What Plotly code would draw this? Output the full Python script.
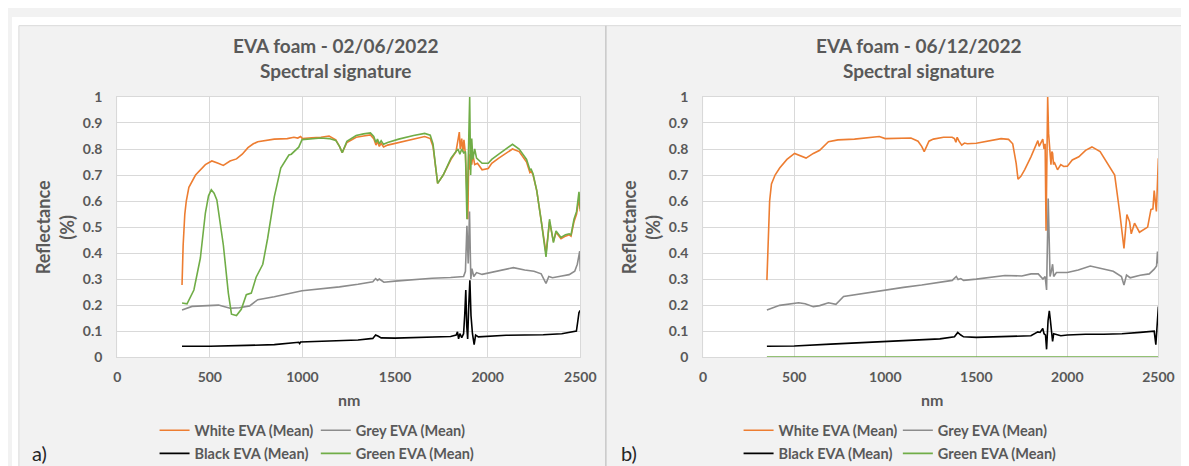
import plotly.graph_objects as go

# ---------------- data ----------------
# Panel a) 02/06/2022
a_white_nm = [350, 356, 365, 373, 387, 423, 476, 511, 545, 573, 609, 644, 675, 706, 735, 759, 848, 918, 954, 975, 990,
              1000, 1050, 1100, 1144, 1160, 1180, 1200, 1215, 1240, 1290, 1330, 1367, 1385, 1397, 1405, 1415, 1425, 1438,
              1460, 1520, 1600, 1660, 1690, 1705, 1721, 1730, 1760, 1802, 1829, 1840, 1847, 1852, 1860, 1866, 1872,
              1880, 1888, 1893, 1898, 1903, 1908, 1914, 1920, 1930, 1945, 1970, 2003, 2022, 2060, 2100, 2134, 2170,
              2210, 2228, 2235, 2245, 2265, 2290, 2315, 2334, 2355, 2369, 2396, 2420, 2440, 2450, 2466, 2480, 2493, 2500]
a_white = [0.277, 0.43, 0.55, 0.60, 0.653, 0.70, 0.74, 0.754, 0.745, 0.737, 0.754, 0.762, 0.78, 0.805, 0.82, 0.828,
           0.838, 0.84, 0.845, 0.842, 0.848, 0.84, 0.843, 0.845, 0.85, 0.843, 0.835, 0.81, 0.786, 0.825, 0.845, 0.85,
           0.854, 0.84, 0.815, 0.83, 0.81, 0.822, 0.808, 0.815, 0.825, 0.84, 0.848, 0.84, 0.81, 0.72, 0.668, 0.70,
           0.76, 0.79, 0.83, 0.865, 0.80, 0.84, 0.79, 0.835, 0.78, 0.60, 0.53, 0.78, 0.72, 0.80, 0.74, 0.78, 0.74,
           0.745, 0.72, 0.725, 0.745, 0.765, 0.785, 0.80, 0.79, 0.75, 0.71, 0.715, 0.70, 0.64, 0.52, 0.40, 0.52,
           0.445, 0.48, 0.455, 0.465, 0.47, 0.465, 0.52, 0.55, 0.61, 0.56]

a_grey_nm = [350, 404, 547, 609, 660, 715, 759, 848, 998, 1100, 1200, 1300, 1380, 1395, 1405, 1415, 1440, 1500, 1600,
             1700, 1800, 1850, 1870, 1880, 1888, 1895, 1902, 1909, 1915, 1925, 1940, 1970, 2050, 2139, 2200, 2250,
             2289, 2315, 2330, 2350, 2400, 2440, 2470, 2484, 2497, 2500]
a_grey = [0.181, 0.195, 0.20, 0.188, 0.19, 0.197, 0.221, 0.232, 0.255, 0.262, 0.27, 0.28, 0.29, 0.302, 0.295, 0.30,
          0.288, 0.292, 0.298, 0.303, 0.306, 0.308, 0.31, 0.33, 0.505, 0.36, 0.56, 0.30, 0.34, 0.31, 0.325, 0.318,
          0.33, 0.344, 0.335, 0.33, 0.32, 0.283, 0.31, 0.305, 0.312, 0.317, 0.33, 0.357, 0.407, 0.33]

a_black_nm = [350, 500, 700, 848, 980, 985, 990, 1100, 1200, 1300, 1380, 1395, 1410, 1425, 1500, 1600, 1700, 1800,
              1830, 1837, 1843, 1850, 1860, 1870, 1876, 1882, 1887, 1892, 1898, 1904, 1910, 1918, 1927, 1935, 1950,
              2000, 2100, 2200, 2300, 2400, 2440, 2470, 2479, 2485, 2493, 2500]
a_black = [0.042, 0.042, 0.045, 0.048, 0.057, 0.052, 0.058, 0.06, 0.063, 0.066, 0.072, 0.085, 0.08, 0.074, 0.073,
           0.075, 0.077, 0.079, 0.085, 0.097, 0.07, 0.09, 0.075, 0.09, 0.16, 0.258, 0.12, 0.07, 0.20, 0.295, 0.16,
           0.09, 0.048, 0.085, 0.078, 0.08, 0.084, 0.085, 0.086, 0.09, 0.095, 0.10, 0.10, 0.13, 0.171, 0.18]

a_green_nm = [350, 377, 414, 449, 476, 493, 508, 523, 538, 573, 600, 617, 644, 670, 697, 724, 750, 786, 812, 848, 883,
              910, 927, 940, 954, 970, 980, 998, 1050, 1100, 1144, 1180, 1200, 1215, 1240, 1290, 1330, 1367, 1385,
              1397, 1405, 1415, 1425, 1438, 1460, 1520, 1600, 1660, 1690, 1705, 1721, 1730, 1760, 1802, 1829, 1840,
              1850, 1860, 1870, 1880, 1888, 1896, 1903, 1908, 1914, 1920, 1930, 1940, 1970, 2003, 2022, 2060, 2100,
              2134, 2170, 2210, 2228, 2235, 2245, 2265, 2290, 2315, 2334, 2355, 2369, 2396, 2420, 2440, 2450, 2466,
              2480, 2493, 2500]
a_green = [0.208, 0.205, 0.258, 0.381, 0.554, 0.62, 0.643, 0.63, 0.604, 0.431, 0.246, 0.165, 0.16, 0.184, 0.24,
           0.246, 0.307, 0.357, 0.456, 0.616, 0.727, 0.76, 0.777, 0.78, 0.79, 0.80, 0.807, 0.836, 0.84, 0.842, 0.84,
           0.833, 0.81, 0.786, 0.83, 0.852, 0.858, 0.862, 0.848, 0.825, 0.838, 0.82, 0.832, 0.818, 0.825, 0.838,
           0.852, 0.86, 0.853, 0.82, 0.72, 0.668, 0.70, 0.765, 0.79, 0.80, 0.78, 0.80, 0.785, 0.79, 0.53, 0.75, 1.0,
           0.70, 0.84, 0.76, 0.80, 0.765, 0.745, 0.745, 0.76, 0.78, 0.80, 0.818, 0.80, 0.76, 0.72, 0.722, 0.705,
           0.64, 0.52, 0.385, 0.53, 0.44, 0.485, 0.46, 0.47, 0.474, 0.47, 0.53, 0.56, 0.635, 0.57]

# Panel b) 06/12/2022
b_white_nm = [350, 356, 365, 375, 395, 420, 460, 502, 535, 565, 605, 640, 688, 740, 831, 900, 967, 1000, 1060, 1141,
              1180, 1200, 1214, 1240, 1264, 1320, 1367, 1380, 1388, 1395, 1405, 1420, 1435, 1451, 1500, 1560, 1636,
              1677, 1700, 1719, 1729, 1745, 1766, 1800, 1838, 1845, 1855, 1865, 1872, 1878, 1883, 1888, 1892, 1897,
              1901, 1906, 1910, 1915, 1919, 1924, 1928, 1946, 1964, 1980, 2000, 2027, 2063, 2100, 2135, 2180, 2225,
              2242, 2260, 2288, 2311, 2327, 2342, 2351, 2369, 2396, 2420, 2441, 2459, 2470, 2477, 2489, 2500]
b_white = [0.296, 0.45, 0.60, 0.666, 0.70, 0.727, 0.76, 0.783, 0.775, 0.765, 0.783, 0.795, 0.828, 0.835, 0.838,
           0.842, 0.848, 0.84, 0.842, 0.842, 0.83, 0.81, 0.79, 0.83, 0.838, 0.845, 0.845, 0.84, 0.826, 0.845, 0.83,
           0.815, 0.823, 0.82, 0.822, 0.83, 0.84, 0.837, 0.82, 0.745, 0.684, 0.695, 0.721, 0.77, 0.832, 0.81, 0.825,
           0.838, 0.80, 0.82, 0.486, 0.75, 1.0, 0.86, 0.81, 0.76, 0.74, 0.79, 0.784, 0.74, 0.75, 0.72, 0.74, 0.733,
           0.734, 0.758, 0.77, 0.795, 0.808, 0.79, 0.74, 0.717, 0.70, 0.554, 0.418, 0.548, 0.52, 0.474, 0.515, 0.48,
           0.49, 0.50, 0.567, 0.57, 0.64, 0.56, 0.764]

b_grey_nm = [350, 420, 524, 560, 605, 640, 688, 729, 771, 850, 997, 1100, 1200, 1300, 1368, 1390, 1400, 1415, 1430,
             1500, 1600, 1657, 1750, 1801, 1840, 1866, 1878, 1886, 1895, 1900, 1905, 1912, 1919, 1925, 1940, 2000,
             2060, 2126, 2200, 2252, 2297, 2311, 2325, 2345, 2400, 2450, 2477, 2490, 2495, 2500]
b_grey = [0.181, 0.199, 0.209, 0.205, 0.194, 0.198, 0.209, 0.203, 0.233, 0.242, 0.258, 0.268, 0.277, 0.287, 0.295,
          0.31, 0.298, 0.302, 0.295, 0.30, 0.308, 0.314, 0.312, 0.32, 0.32, 0.30, 0.31, 0.258, 0.61, 0.38, 0.31,
          0.33, 0.357, 0.31, 0.325, 0.325, 0.335, 0.35, 0.338, 0.33, 0.31, 0.277, 0.315, 0.305, 0.315, 0.32, 0.338,
          0.35, 0.406, 0.36]

b_black_nm = [350, 500, 700, 850, 997, 1200, 1300, 1380, 1398, 1415, 1430, 1500, 1600, 1700, 1766, 1800, 1838, 1850,
              1865, 1872, 1880, 1886, 1894, 1901, 1907, 1913, 1919, 1925, 1964, 2000, 2100, 2200, 2300, 2400, 2477,
              2486, 2492, 2500]
b_black = [0.042, 0.043, 0.05, 0.055, 0.06, 0.066, 0.07, 0.078, 0.095, 0.085, 0.078, 0.076, 0.078, 0.08, 0.079,
           0.082, 0.097, 0.095, 0.11, 0.09, 0.085, 0.03, 0.14, 0.178, 0.14, 0.09, 0.06, 0.09, 0.082, 0.085, 0.088,
           0.088, 0.09, 0.095, 0.10, 0.048, 0.11, 0.194]

b_green_nm = [350, 2500]
b_green = [0.0, 0.0]

series_names = ["White EVA (Mean)", "Grey EVA (Mean)", "Black EVA (Mean)", "Green EVA (Mean)"]
series_colors = ["#ED7D31", "#8C8C8C", "#000000", "#70AD47"]

panel_titles = ["EVA foam - 02/06/2022<br>Spectral signature", "EVA foam - 06/12/2022<br>Spectral signature"]
panel_labels = ["a)", "b)"]
x_ticks = [0, 500, 1000, 1500, 2000, 2500]
y_ticks = [0, 0.1, 0.2, 0.3, 0.4, 0.5, 0.6, 0.7, 0.8, 0.9, 1]

# ---------------- figure ----------------
W, H = 1189, 466
def px(x):
    return x / W
def py(y):
    return 1 - y / H

FONT = "Lato"
TXT = "#595959"

fig = go.Figure()

panels = [
    [(a_white_nm, a_white), (a_grey_nm, a_grey), (a_black_nm, a_black), (a_green_nm, a_green)],
    [(b_white_nm, b_white), (b_grey_nm, b_grey), (b_black_nm, b_black), (b_green_nm, b_green)],
]
# one legend box per entry so the two-row layout matches the reference
legend_names = ["legend", "legend2", "legend3", "legend4", "legend5", "legend6", "legend7", "legend8"]
# text start x (px) and row y (px) of each legend entry
legend_text_x = [[186, 350, 186, 350], [780, 942, 780, 942]]
legend_row_y = [429, 429, 453, 453]

for p, series in enumerate(panels):
    xa = "x" if p == 0 else "x2"
    ya = "y" if p == 0 else "y2"
    for i, (xs, ys) in enumerate(series):
        fig.add_trace(go.Scatter(
            x=xs, y=ys, mode="lines", name=series_names[i],
            line=dict(color=series_colors[i], width=1.6),
            xaxis=xa, yaxis=ya, legend=legend_names[p * 4 + i],
        ))

axis_common = dict(range=[0, 2500], tickvals=x_ticks, showgrid=True, gridcolor="#D9D9D9", gridwidth=1,
                   zeroline=False, showline=True, linecolor="#D9D9D9", mirror=True, ticks="",
                   tickfont=dict(family=FONT, size=14, color=TXT, weight="bold"), ticklabelstandoff=7,
                   fixedrange=True)
yaxis_common = dict(range=[0, 1], tickvals=y_ticks, showgrid=True, gridcolor="#D9D9D9", gridwidth=1,
                    zeroline=False, showline=True, linecolor="#D9D9D9", mirror=True, ticks="",
                    tickfont=dict(family=FONT, size=14, color=TXT, weight="bold"), ticklabelstandoff=11,
                    fixedrange=True)

y_dom = [py(353), py(83)]
fig.update_layout(
    width=W, height=H,
    margin=dict(l=0, r=0, t=0, b=0),
    paper_bgcolor="#F2F2F2", plot_bgcolor="#FFFFFF",
    xaxis=dict(domain=[px(107), px(578)], anchor="y", **axis_common),
    yaxis=dict(domain=y_dom, anchor="x", **yaxis_common),
    xaxis2=dict(domain=[px(703), px(1166)], anchor="y2", **axis_common),
    yaxis2=dict(domain=y_dom, anchor="x2", **yaxis_common),
    showlegend=True,
)

leg_font = dict(family=FONT, size=14.5, color=TXT, weight="bold")
leg_common = dict(orientation="h", bgcolor="rgba(0,0,0,0)", font=leg_font, itemwidth=30,
                  xanchor="left", yanchor="middle", itemclick=False, itemdoubleclick=False)
legends = {}
for p in range(2):
    for i in range(4):
        legends[legend_names[p * 4 + i]] = dict(x=px(legend_text_x[p][i] - 41), y=py(legend_row_y[i]),
                                                **leg_common)
fig.update_layout(**legends)

# panel backgrounds / frames
shapes = [
    dict(type="rect", xref="paper", yref="paper", x0=0, x1=1, y0=py(9), y1=1,
         fillcolor="#FFFFFF", line=dict(width=0), layer="below"),
    dict(type="rect", xref="paper", yref="paper", x0=0, x1=px(7), y0=0, y1=1,
         fillcolor="#FFFFFF", line=dict(width=0), layer="below"),
    dict(type="line", xref="paper", yref="paper", x0=px(7), x1=1, y0=py(9), y1=py(9),
         line=dict(color="#D9D9D9", width=1)),
    dict(type="line", xref="paper", yref="paper", x0=px(7), x1=px(7), y0=0, y1=py(9),
         line=dict(color="#D9D9D9", width=1)),
    dict(type="line", xref="paper", yref="paper", x0=px(604), x1=px(604), y0=0, y1=py(9),
         line=dict(color="#C8C8C8", width=1.5)),
]
fig.update_layout(shapes=shapes)

annotations = []
title_cx = [329, 922]
ytitle_x = [43, 639]
nm_cx = [343, 936]
label_x = [28, 628]
for p in range(2):
    annotations.append(dict(text=panel_titles[p], x=px(title_cx[p]), y=py(42.5), xref="paper", yref="paper",
                            xanchor="center", yanchor="middle", showarrow=False,
                            font=dict(family=FONT, size=19, color=TXT, weight="bold")))
    annotations.append(dict(text="Reflectance<br>(%)", x=px(ytitle_x[p]), y=py(218), xref="paper", yref="paper",
                            xanchor="center", yanchor="middle", showarrow=False, textangle=-90,
                            font=dict(family=FONT, size=18, color=TXT, weight="bold")))
    annotations.append(dict(text="nm", x=px(nm_cx[p]), y=py(397), xref="paper", yref="paper",
                            xanchor="center", yanchor="middle", showarrow=False,
                            font=dict(family=FONT, size=16, color=TXT, weight="bold")))
    annotations.append(dict(text=panel_labels[p], x=px(label_x[p]), y=py(452), xref="paper", yref="paper",
                            xanchor="center", yanchor="middle", showarrow=False,
                            font=dict(family=FONT, size=20, color="#262626")))
fig.update_layout(annotations=annotations)

fig.write_html("out.html")
